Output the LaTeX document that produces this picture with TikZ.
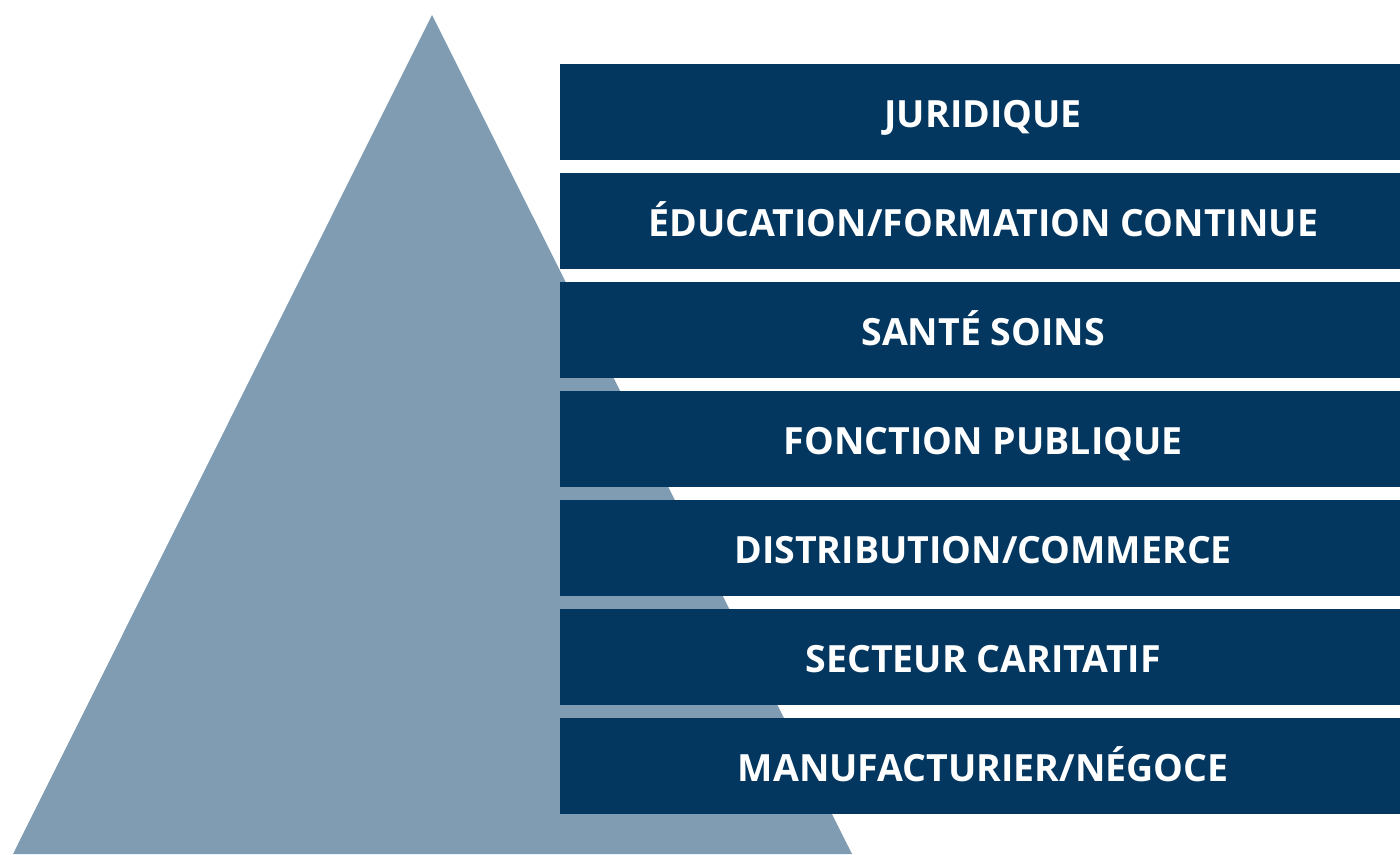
\documentclass[tikz,border=0pt]{standalone}
\usepackage{fontspec}
\setmainfont{Open Sans}
\definecolor{navy}{HTML}{03375F}
\definecolor{slate}{HTML}{7F9CB3}
\begin{document}
\begin{tikzpicture}[x=1pt,y=-1pt,
  band/.style={fill=navy,draw=none,minimum width=840pt,minimum height=96pt,
    inner sep=0pt,anchor=north west},
  bandtext/.style={text=white,inner sep=0pt,text height=27pt,text depth=0pt,
    font=\fontsize{37.5}{42}\selectfont\bfseries}]
\useasboundingbox (0,0) rectangle (1400,854);
% pyramid behind the bands
\fill[slate] (432,15) -- (852,854) -- (13,854) -- cycle;
% sector bands, top to bottom
\foreach \i in {0,...,6}
  \node[band] (b\i) at (560,{64+109*\i}) {};
\tikzset{shiftc/.style={xshift=3pt,yshift=-1.5pt}}
\node[bandtext] (t0) at ([shiftc]b0.center) {JURIDIQUE};
\node[bandtext] (t1) at ([shiftc]b1.center) {ÉDUCATION/FORMATION CONTINUE};
\node[bandtext] (t2) at ([shiftc]b2.center) {SANTÉ SOINS};
\node[bandtext] (t3) at ([shiftc]b3.center) {FONCTION PUBLIQUE};
\node[bandtext] (t4) at ([shiftc]b4.center) {DISTRIBUTION/COMMERCE};
\node[bandtext] (t5) at ([shiftc]b5.center) {SECTEUR CARITATIF};
\node[bandtext] (t6) at ([shiftc]b6.center) {MANUFACTURIER/NÉGOCE};
\end{tikzpicture}
\end{document}
